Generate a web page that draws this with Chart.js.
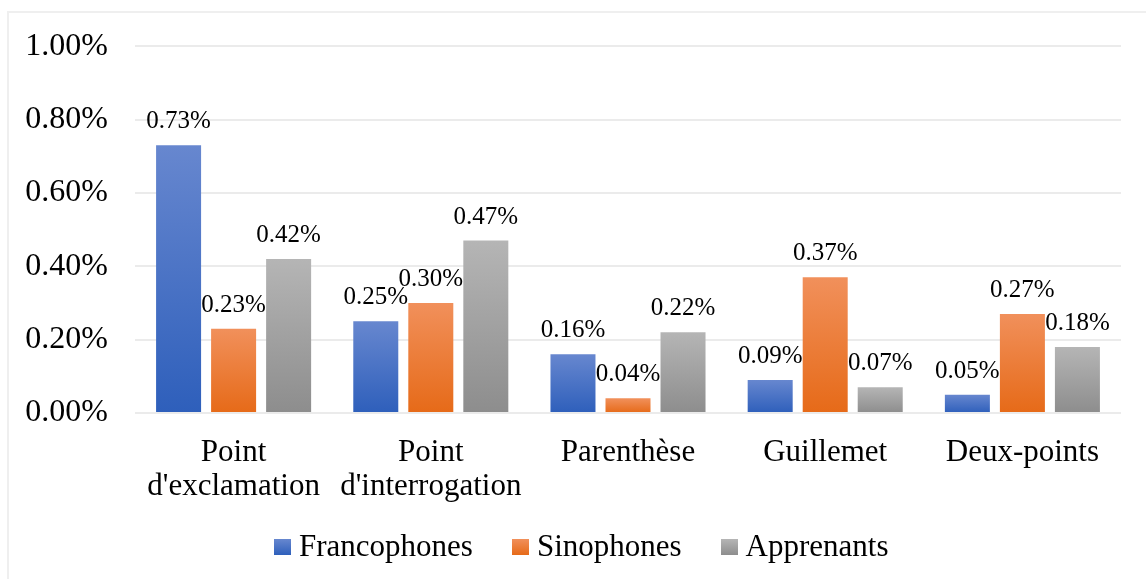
<!DOCTYPE html>
<html>
<head>
<meta charset="utf-8">
<script src="https://cdn.jsdelivr.net/npm/chart.js@4/dist/chart.umd.min.js"></script>
<style>
  html, body { margin: 0; padding: 0; background: #ffffff; }
  #wrap { position: relative; width: 1146px; height: 579px; overflow: hidden; background: #fff; }
  #frame { position: absolute; left: 7px; top: 11px; width: 1160px; height: 600px; border: 2px solid #efefef; box-sizing: border-box; }
  #c { position: absolute; left: 0; top: 0; }
  #legend { position: absolute; left: 274px; top: 528px; display: flex; align-items: center; font-family: "Liberation Serif", "Times New Roman", serif; font-size: 31px; line-height: 36px; color: #000; white-space: nowrap; }
  .item { display: flex; align-items: center; margin-right: 39px; }
  .box { width: 17px; height: 16px; margin-right: 8px; position: relative; top: 1px; }
</style>
</head>
<body>
<div id="wrap">
  <div id="frame"></div>
  <canvas id="c" width="1146" height="579"></canvas>
  <div id="legend"></div>
</div>
<script>
const categories = [["Point", "d'exclamation"], ["Point", "d'interrogation"], "Parenthèse", "Guillemet", "Deux-points"];
const seriesNames = ["Francophones", "Sinophones", "Apprenants"];
const francophones = [0.73, 0.25, 0.16, 0.09, 0.05];
const sinophones = [0.23, 0.30, 0.04, 0.37, 0.27];
const apprenants = [0.42, 0.47, 0.22, 0.07, 0.18];
const yTicks = [0, 0.2, 0.4, 0.6, 0.8, 1.0];

const gradients = [
  ["#6787cf", "#2e5fbb"],
  ["#f1905b", "#e66a18"],
  ["#b5b5b5", "#8d8d8d"]
];

function barFill(idx) {
  return function(ctx) {
    const chart = ctx.chart;
    const [top, bot] = gradients[idx];
    if (!chart.chartArea || ctx.type !== 'data' || !chart.scales.y) return bot;
    const y = chart.scales.y;
    const yTop = y.getPixelForValue(ctx.raw);
    const yBot = y.getPixelForValue(0);
    if (!isFinite(yTop) || !isFinite(yBot) || yTop === yBot) return bot;
    const g = chart.ctx.createLinearGradient(0, yTop, 0, yBot);
    g.addColorStop(0, top);
    g.addColorStop(1, bot);
    return g;
  };
}

const values = [francophones, sinophones, apprenants];

const labelPlugin = {
  id: 'valueLabels',
  afterDatasetsDraw(chart) {
    const ctx = chart.ctx;
    ctx.save();
    ctx.font = '25px "Liberation Serif", "Times New Roman", serif';
    ctx.fillStyle = '#000';
    ctx.textAlign = 'center';
    ctx.textBaseline = 'alphabetic';
    chart.data.datasets.forEach((ds, di) => {
      const meta = chart.getDatasetMeta(di);
      meta.data.forEach((bar, i) => {
        const v = ds.data[i];
        ctx.fillText(v.toFixed(2) + '%', bar.x, bar.y - 17);
      });
    });
    ctx.restore();
  }
};

const chart = new Chart(document.getElementById('c'), {
  type: 'bar',
  data: {
    labels: categories,
    datasets: seriesNames.map((name, i) => ({
      label: name,
      data: values[i],
      backgroundColor: barFill(i),
      borderWidth: 0,
      categoryPercentage: 0.837,
      barPercentage: 0.818
    }))
  },
  options: {
    responsive: false,
    animation: false,
    devicePixelRatio: 1,
    layout: { padding: { top: 42, right: 25, left: 0, bottom: 0 } },
    plugins: {
      legend: { display: false },
      tooltip: { enabled: false }
    },
    scales: {
      x: {
        grid: { display: false },
        border: { display: false },
        ticks: {
          color: '#000',
          font: { family: '"Liberation Serif", "Times New Roman", serif', size: 31, lineHeight: 1.1 },
          padding: 15,
          maxRotation: 0,
          autoSkip: false
        },
        afterFit(scale) { scale.height = 166; }
      },
      y: {
        min: 0,
        max: 1.0,
        afterBuildTicks(scale) { scale.ticks = yTicks.map(v => ({ value: v })); },
        grid: { color: '#ebebeb', lineWidth: 2, drawTicks: false },
        border: { display: false },
        ticks: {
          color: '#000',
          padding: 27,
          font: { family: '"Liberation Serif", "Times New Roman", serif', size: 32 },
          callback: (v) => Number(v).toFixed(2) + '%'
        },
        afterFit(scale) { scale.width = 135; }
      }
    }
  },
  plugins: [labelPlugin]
});

const legend = document.getElementById('legend');
seriesNames.forEach((name, i) => {
  const item = document.createElement('div');
  item.className = 'item';
  const box = document.createElement('span');
  box.className = 'box';
  box.style.background = 'linear-gradient(' + gradients[i][0] + ',' + gradients[i][1] + ')';
  const txt = document.createElement('span');
  txt.textContent = name;
  item.appendChild(box);
  item.appendChild(txt);
  legend.appendChild(item);
});
</script>
</body>
</html>
